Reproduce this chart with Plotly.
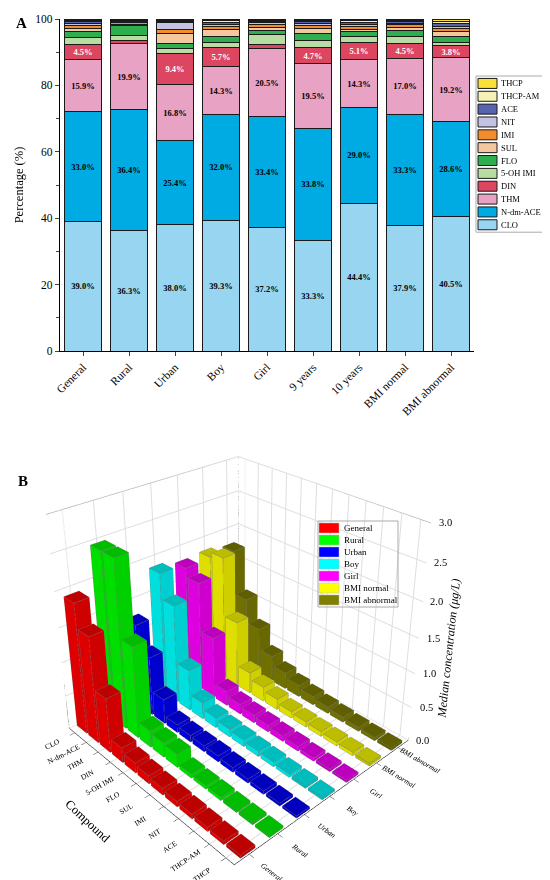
import numpy as np
import plotly.graph_objects as go

# %% Data - panel A (percentage share)
groups_a = ["General", "Rural", "Urban", "Boy", "Girl", "9 years", "10 years",
            "BMI normal", "BMI abnormal"]
compounds = ["CLO", "N-dm-ACE", "THM", "DIN", "5-OH IMI", "FLO", "SUL", "IMI",
             "NIT", "ACE", "THCP-AM", "THCP"]

pct_clo = [39.0, 36.3, 38.0, 39.3, 37.2, 33.3, 44.4, 37.9, 40.5]
pct_ndm = [33.0, 36.4, 25.4, 32.0, 33.4, 33.8, 29.0, 33.3, 28.6]
pct_thm = [15.9, 19.9, 16.8, 14.3, 20.5, 19.5, 14.3, 17.0, 19.2]
pct_din = [4.5, 0.8, 9.4, 5.7, 1.1, 4.7, 5.1, 4.5, 3.8]
pct_ohimi = [2.0, 1.7, 1.6, 1.5, 3.0, 2.2, 1.8, 1.9, 0.8]
pct_flo = [1.7, 2.8, 1.4, 2.0, 1.4, 2.0, 1.6, 2.0, 1.9]
pct_sul = [1.1, 0.4, 3.0, 2.0, 0.8, 1.7, 0.7, 0.8, 1.5]
pct_imi = [0.8, 0.5, 1.3, 0.8, 1.0, 0.8, 0.8, 0.8, 0.8]
pct_nit = [0.6, 0.4, 1.9, 0.6, 0.5, 0.6, 0.5, 0.5, 0.6]
pct_ace = [0.5, 0.3, 0.4, 0.6, 0.4, 0.5, 0.8, 0.5, 0.8]
pct_thcpam = [0.5, 0.3, 0.4, 0.6, 0.4, 0.5, 0.5, 0.4, 0.8]
pct_thcp = [0.4, 0.2, 0.4, 0.6, 0.3, 0.4, 0.5, 0.4, 0.7]

colors_a = ["#98D5F0", "#00AAE2", "#E8A2C3", "#DC4660", "#B8DDA2", "#2EAE4E",
            "#F4C89E", "#F28D2E", "#C3C3E3", "#5763AE", "#F6F1B6", "#FCE03A"]

# %% Data - panel B (median concentration, ug/L)
groups_b = ["General", "Rural", "Urban", "Boy", "Girl", "BMI normal", "BMI abnormal"]
med_general = [1.90, 1.55, 0.80, 0.22, 0.15, 0.12, 0.10, 0.08, 0.07, 0.06, 0.05, 0.04]
med_rural = [2.45, 2.45, 1.35, 0.25, 0.22, 0.20, 0.06, 0.05, 0.05, 0.04, 0.04, 0.03]
med_urban = [1.25, 0.88, 0.37, 0.12, 0.10, 0.09, 0.09, 0.07, 0.06, 0.05, 0.04, 0.03]
med_boy = [1.85, 1.48, 0.62, 0.25, 0.15, 0.12, 0.10, 0.08, 0.07, 0.05, 0.04, 0.03]
med_girl = [1.78, 1.65, 0.93, 0.22, 0.15, 0.12, 0.10, 0.08, 0.07, 0.05, 0.04, 0.03]
med_bmin = [1.80, 1.88, 1.00, 0.32, 0.22, 0.16, 0.10, 0.08, 0.07, 0.06, 0.05, 0.04]
med_bmiab = [1.75, 1.09, 0.72, 0.40, 0.25, 0.18, 0.13, 0.10, 0.08, 0.06, 0.05, 0.04]
z_ticks = [0.0, 0.5, 1.0, 1.5, 2.0, 2.5, 3.0]

colors_b = ["#FF0000", "#00FF00", "#0000FF", "#00FFFF", "#FF00FF", "#FFFF00", "#808000"]

serif = "Liberation Serif"
W, H = 550, 880
fig = go.Figure()

# %% Panel A - stacked bars
pct_all = [pct_clo, pct_ndm, pct_thm, pct_din, pct_ohimi, pct_flo, pct_sul,
           pct_imi, pct_nit, pct_ace, pct_thcpam, pct_thcp]
for c, vals, col in zip(compounds, pct_all, colors_a):
    if c in ("CLO", "N-dm-ACE", "THM"):
        txt = [f"{v:.1f}%" for v in vals]
    elif c == "DIN":
        txt = [f"{v:.1f}%" if v >= 3 else "" for v in vals]
    else:
        txt = None
    fig.add_trace(go.Bar(
        x=groups_a, y=vals, name=c, text=txt,
        textposition="inside", insidetextanchor="middle", textangle=0,
        constraintext="none",
        textfont=dict(family=serif, size=8.5, weight="bold",
                      color="white" if c == "DIN" else "black"),
        marker=dict(color=col, line=dict(color="#1a1a1a", width=1)),
        showlegend=False))

# %% Panel B - 3D bars
med_all = [med_general, med_rural, med_urban, med_boy, med_girl, med_bmin, med_bmiab]
nx, ny = len(compounds), len(groups_b)
bw_x, bw_y = 0.84, 0.5
for gi, (g, vals, col) in enumerate(zip(groups_b, med_all, colors_b)):
    vx, vy, vz, ii, jj, kk = [], [], [], [], [], []
    ex, ey, ez = [], [], []
    for ci, h in enumerate(vals):
        x0, x1 = ci - bw_x / 2, ci + bw_x / 2
        y0, y1 = gi - bw_y / 2, gi + bw_y / 2
        base = len(vx)
        corners = [(x0, y0, 0), (x1, y0, 0), (x1, y1, 0), (x0, y1, 0),
                   (x0, y0, h), (x1, y0, h), (x1, y1, h), (x0, y1, h)]
        for p in corners:
            vx.append(p[0]); vy.append(p[1]); vz.append(p[2])
        tris = [(0, 1, 2), (0, 2, 3), (4, 5, 6), (4, 6, 7), (0, 1, 5), (0, 5, 4),
                (3, 2, 6), (3, 6, 7), (0, 3, 7), (0, 7, 4), (1, 2, 6), (1, 6, 5)]
        for t in tris:
            ii.append(base + t[0]); jj.append(base + t[1]); kk.append(base + t[2])
        edges = [(0, 1), (1, 2), (2, 3), (3, 0), (4, 5), (5, 6), (6, 7), (7, 4),
                 (0, 4), (1, 5), (2, 6), (3, 7)]
        for a, b in edges:
            ex += [corners[a][0], corners[b][0], None]
            ey += [corners[a][1], corners[b][1], None]
            ez += [corners[a][2], corners[b][2], None]
    fig.add_trace(go.Mesh3d(
        x=vx, y=vy, z=vz, i=ii, j=jj, k=kk, color=col, flatshading=True,
        lighting=dict(ambient=0.74, diffuse=0.35, specular=0.0, roughness=1,
                      fresnel=0),
        lightposition=dict(x=-20000, y=-100000, z=0),
        hoverinfo="skip", showlegend=False, scene="scene"))
    fig.add_trace(go.Scatter3d(
        x=ex, y=ey, z=ez, mode="lines", line=dict(color="#777777", width=1),
        hoverinfo="skip", showlegend=False, scene="scene"))

# box outline (top/back edges) and z axis drawn at the right corner
xlo, xhi, ylo, yhi, ztop = -0.5, nx - 0.5, -0.5, ny - 0.5, z_ticks[-1]
fig.add_trace(go.Scatter3d(
    x=[xlo, xlo, None, xlo, xlo, xhi, None, xlo, xlo],
    y=[ylo, ylo, None, ylo, yhi, yhi, None, yhi, yhi],
    z=[0, ztop, None, ztop, ztop, ztop, None, 0, ztop],
    mode="lines", line=dict(color="#999999", width=1.5),
    hoverinfo="skip", showlegend=False, scene="scene"))
zx, zy, zz = [xhi, xhi, None], [yhi, yhi, None], [0, ztop, None]
for t in z_ticks:
    zx += [xhi, xhi, None]; zy += [yhi, yhi + 0.22, None]; zz += [t, t, None]
fig.add_trace(go.Scatter3d(
    x=zx, y=zy, z=zz, mode="lines", line=dict(color="black", width=2),
    hoverinfo="skip", showlegend=False, scene="scene"))
scene_ann = [dict(x=xhi, y=yhi, z=t, text=f"{t:.1f}", showarrow=False,
                  xanchor="left", xshift=6, font=dict(family=serif, size=10.5))
             for t in z_ticks]
scene_ann.append(dict(x=xhi, y=yhi, z=1.35, text="Median concentration (μg/L)",
                      showarrow=False, textangle=-84, xshift=31,
                      font=dict(family=serif, size=12, style="italic")))

# %% Manual legends (compact, like the original)
shapes, anns = [], []
leg_a = dict(x0=468, x1=543, y0=68, step=12.85)
items_a = list(zip(compounds, colors_a))[::-1]
shapes.append(dict(type="rect", xref="paper", yref="paper",
                   x0=leg_a["x0"] / W, x1=leg_a["x1"] / W,
                   y0=1 - leg_a["y0"] / H,
                   y1=1 - (leg_a["y0"] + leg_a["step"] * len(items_a) + 2) / H,
                   line=dict(color="#aaaaaa", width=1)))
for n, (c, col) in enumerate(items_a):
    yc = leg_a["y0"] + 1 + leg_a["step"] * (n + 0.5)
    shapes.append(dict(type="rect", xref="paper", yref="paper",
                       x0=(leg_a["x0"] + 2) / W, x1=(leg_a["x0"] + 21) / W,
                       y0=1 - (yc - 5) / H, y1=1 - (yc + 5) / H,
                       fillcolor=col, line=dict(color="#1a1a1a", width=1)))
    anns.append(dict(text=c, x=(leg_a["x0"] + 23) / W, y=1 - yc / H,
                     xref="paper", yref="paper", xanchor="left", yanchor="middle",
                     showarrow=False, font=dict(family=serif, size=8.5)))

leg_b = dict(x0=310, x1=390, y0=513, step=12.0)
shapes.append(dict(type="rect", xref="paper", yref="paper",
                   x0=leg_b["x0"] / W, x1=leg_b["x1"] / W,
                   y0=1 - leg_b["y0"] / H,
                   y1=1 - (leg_b["y0"] + leg_b["step"] * ny + 2) / H,
                   line=dict(color="#aaaaaa", width=1)))
for n, (g, col) in enumerate(zip(groups_b, colors_b)):
    yc = leg_b["y0"] + 1 + leg_b["step"] * (n + 0.5)
    shapes.append(dict(type="rect", xref="paper", yref="paper",
                       x0=(leg_b["x0"] + 1) / W, x1=(leg_b["x0"] + 21) / W,
                       y0=1 - (yc - 5) / H, y1=1 - (yc + 5) / H,
                       fillcolor=col, line=dict(color="#bbbbbb", width=0.5)))
    anns.append(dict(text=g, x=(leg_b["x0"] + 24) / W, y=1 - yc / H,
                     xref="paper", yref="paper", xanchor="left", yanchor="middle",
                     showarrow=False, font=dict(family=serif, size=9)))

anns += [
    dict(text="<b>A</b>", x=6 / W, y=1 - 5 / H, xref="paper", yref="paper",
         xanchor="left", yanchor="top", showarrow=False,
         font=dict(family=serif, size=15)),
    dict(text="<b>B</b>", x=8 / W, y=1 - 463 / H, xref="paper", yref="paper",
         xanchor="left", yanchor="top", showarrow=False,
         font=dict(family=serif, size=15)),
]

axis_font = dict(family=serif, size=9.5, color="black")
fig.update_layout(
    width=W, height=H,
    margin=dict(l=0, r=0, t=0, b=0),
    paper_bgcolor="white", plot_bgcolor="white",
    barmode="stack", bargap=0.21, showlegend=False,
    font=dict(family=serif, color="black"),
    xaxis=dict(domain=[52 / W, 466 / W], anchor="y", tickangle=-45,
               tickfont=dict(family=serif, size=11.5), showline=True,
               linecolor="black", linewidth=1.2, ticks="outside", ticklen=4,
               automargin=False),
    yaxis=dict(domain=[1 - 343 / H, 1 - 11 / H], anchor="x", range=[0, 100],
               tickvals=[0, 20, 40, 60, 80, 100],
               tickfont=dict(family=serif, size=11.5), showline=True,
               linecolor="black", linewidth=1.2, ticks="outside", ticklen=4,
               minor=dict(dtick=10, ticks="outside", ticklen=2.5),
               showgrid=False, zeroline=False, automargin=False,
               title=dict(text="Percentage (%)", font=dict(family=serif, size=12.5),
                          standoff=8)),
    scene=dict(
        domain=dict(x=[0.0, 0.86], y=[0.0, 0.78]),
        aspectmode="manual", aspectratio=dict(x=1.0, y=0.95, z=0.95),
        camera=dict(eye=dict(x=2.01, y=-1.85, z=1.63),
                    center=dict(x=0.02, y=0.023, z=0.37),
                    projection=dict(type="perspective")),
        annotations=scene_ann,
        xaxis=dict(tickvals=list(range(nx)), ticktext=compounds,
                   range=[xlo, xhi], tickfont=axis_font,
                   title=dict(text="Compound", font=dict(family=serif, size=12.5)),
                   showbackground=False, gridcolor="#dddddd", showline=True,
                   linecolor="black", ticks="outside", showspikes=False),
        yaxis=dict(tickvals=list(range(ny)), ticktext=groups_b,
                   range=[ylo, yhi],
                   tickfont=dict(family=serif, size=9.5, style="italic"),
                   title=dict(text=""), showbackground=False,
                   gridcolor="#dddddd", showline=True, linecolor="black",
                   ticks="outside", showspikes=False),
        zaxis=dict(range=[0, ztop], dtick=0.5, showticklabels=False,
                   title=dict(text=""), ticks="", showline=False,
                   showbackground=False, gridcolor="#dddddd",
                   showspikes=False)),
    shapes=shapes,
    annotations=anns,
)

fig.write_html("out.html")
